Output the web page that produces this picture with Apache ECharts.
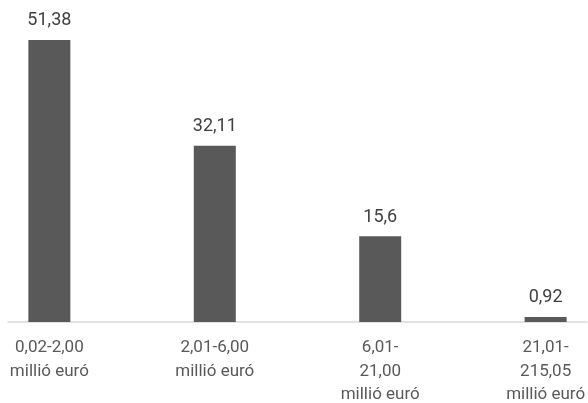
<!DOCTYPE html>
<html>
<head>
<meta charset="utf-8">
<script src="https://cdn.jsdelivr.net/npm/echarts@6/dist/echarts.min.js"></script>
<style>
html,body{margin:0;padding:0;background:#fff;}
#c{width:588px;height:403px;}
</style>
</head>
<body>
<div id="c"></div>
<script>
const categories = [
  "0,02-2,00\nmillió euró",
  "2,01-6,00\nmillió euró",
  "6,01-\n21,00\nmillió euró",
  "21,01-\n215,05\nmillió euró"
];
const values = [51.38, 32.11, 15.6, 0.92];

const chart = echarts.init(document.getElementById('c'));
chart.setOption({
  animation: false,
  backgroundColor: '#ffffff',
  grid: { left: 8, right: 1, top: 20, bottom: 81, containLabel: false, outerBoundsMode: 'none' },
  xAxis: {
    type: 'value',
    min: -0.25,
    max: 3.25,
    interval: 0.25,
    splitLine: { show: false },
    axisTick: { show: false },
    axisLine: { show: true, lineStyle: { color: '#d9d9d9', width: 1.5 } },
    axisLabel: {
      margin: 14,
      color: '#595959',
      fontFamily: 'Roboto',
      fontSize: 17,
      lineHeight: 23.5,
      align: 'center',
      showMinLabel: true,
      showMaxLabel: true,
      hideOverlap: false,
      formatter: function (v) {
        const r = Math.round(v * 1000) / 1000;
        if (Number.isInteger(r) && r >= 0 && r < categories.length) return categories[r];
        return '';
      }
    }
  },
  yAxis: {
    type: 'value',
    min: 0,
    max: 55,
    show: false,
    splitLine: { show: false }
  },
  series: [{
    type: 'bar',
    barWidth: 42,
    data: values.map((v, i) => [i, v]),
    itemStyle: { color: '#595959' },
    label: {
      show: true,
      position: 'top',
      distance: 10,
      color: '#404040',
      fontFamily: 'Roboto',
      fontSize: 18,
      lineHeight: 18,
      formatter: function (p) { return String(p.value[1]).replace('.', ','); }
    }
  }]
});
</script>
</body>
</html>
